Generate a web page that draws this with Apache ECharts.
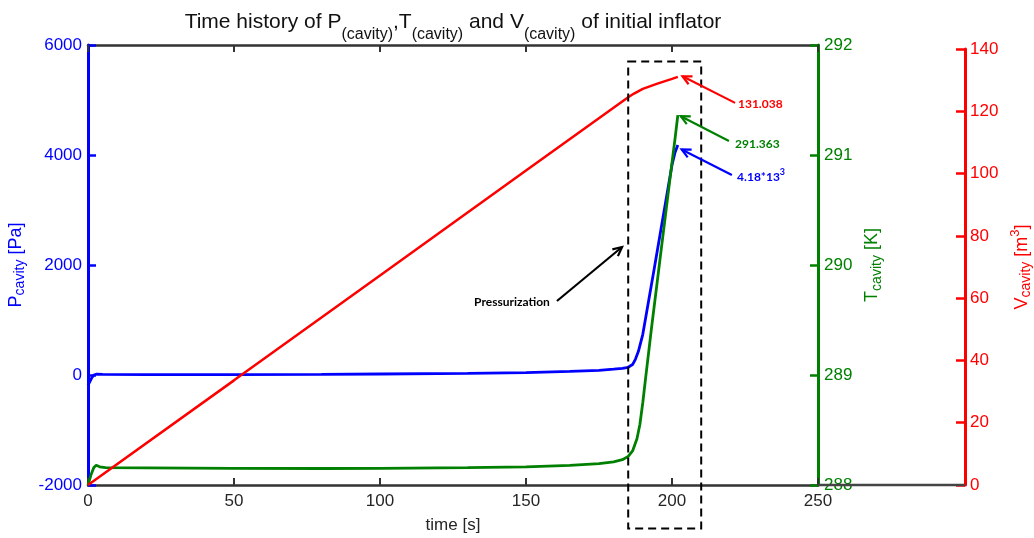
<!DOCTYPE html>
<html>
<head>
<meta charset="utf-8">
<title>Time history of initial inflator</title>
<script src="https://cdn.jsdelivr.net/npm/echarts@6/dist/echarts.min.js"></script>
<style>
  html, body { margin: 0; padding: 0; background: #ffffff; }
  #chart { width: 1034px; height: 538px; }
</style>
</head>
<body>
<div id="chart"></div>
<script>
// ---- data -------------------------------------------------------------
// cavity pressure [Pa] over time [s]
const pTime  = [0, 0.6, 1.2, 2, 3, 5, 20, 50, 80, 100, 130, 150, 165, 175, 180, 183, 185, 186.5, 187.5, 188.5, 190, 192, 194, 196, 198, 200, 201, 202];
const pValue = [-190, -160, -60, 0, 15, 10, 6, 8, 12, 18, 30, 45, 65, 85, 105, 120, 140, 190, 290, 430, 740, 1350, 1960, 2580, 3200, 3820, 4040, 4180];

// cavity temperature [K] over time [s]
const tTime  = [0, 1, 2, 2.8, 4, 6, 20, 50, 80, 100, 130, 150, 165, 175, 180, 183, 185, 186.5, 188, 189, 190, 191, 193, 195, 197, 199, 201, 202];
const tValue = [288.0, 288.09, 288.16, 288.18, 288.165, 288.158, 288.156, 288.152, 288.15, 288.152, 288.158, 288.165, 288.178, 288.195, 288.21, 288.23, 288.26, 288.31, 288.42, 288.55, 288.75, 288.98, 289.43, 289.86, 290.29, 290.72, 291.14, 291.363];

// cavity volume [m^3] over time [s]
const vTime  = [0, 50, 100, 150, 185, 187, 190, 195, 200, 202];
const vValue = [0, 33.6, 67.3, 101.0, 124.5, 125.7, 127.2, 128.9, 130.4, 131.038];

// axis ranges [min, max, step]
const timeRange = [0, 250, 50];
const pRange = [-2000, 6000, 2000];
const tRange = [288, 292, 1];
const vRange = [0, 140, 20];

// peak values called out on the chart
const pPeak = [202, 4180];
const tPeak = [202, 291.363];
const vPeak = [202, 131.038];

// pressurization window [t0, t1, P top, P bottom]
const pressWindow = [185, 210, 5700, -2790];

// ---- helpers ------------------------------------------------------------
const zip = (xs, ys) => xs.map((x, i) => [x, ys[i]]);

const COL_P = '#0000ff';
const COL_T = '#008000';
const COL_V = '#ff0000';
const COL_AX = '#333333';
const FONT = '"Liberation Sans", Arial, Helvetica, sans-serif';
const NOTE_FONT = 'Lato, "Open Sans", sans-serif';

const chart = echarts.init(document.getElementById('chart'), null, { renderer: 'canvas' });

const plain = (v) => String(v);

function yAxisBase(range, color) {
  return {
    type: 'value',
    min: range[0], max: range[1], interval: range[2],
    axisLine: { show: true, onZero: false, lineStyle: { color: color, width: 3 } },
    axisTick: { show: true, inside: true, length: 8, lineStyle: { color: color, width: 2.5 } },
    axisLabel: { color: color, fontSize: 17, fontFamily: FONT, margin: 6, formatter: plain },
    splitLine: { show: false },
    nameLocation: 'middle'
  };
}

const option = {
  animation: false,
  backgroundColor: '#ffffff',
  textStyle: { fontFamily: FONT },
  grid: [
    { left: 88, right: 216, top: 45, bottom: 53, containLabel: false, outerBoundsMode: 'none' },
    { left: 88, right: 216, top: 49, bottom: 53, containLabel: false, outerBoundsMode: 'none' }
  ],
  xAxis: [
    {
      gridIndex: 0, type: 'value', position: 'bottom',
      min: timeRange[0], max: timeRange[1], interval: timeRange[2],
      axisLine: { show: true, onZero: false, lineStyle: { color: COL_AX, width: 2.5 } },
      axisTick: { show: true, inside: true, length: 7, lineStyle: { color: COL_AX, width: 2 } },
      axisLabel: { color: '#262626', fontSize: 17, margin: 8, formatter: plain },
      splitLine: { show: false },
      name: 'time [s]', nameLocation: 'middle', nameGap: 32,
      nameTextStyle: { color: '#262626', fontSize: 17 }
    },
    {
      gridIndex: 0, type: 'value', position: 'top',
      min: timeRange[0], max: timeRange[1], interval: timeRange[2],
      axisLine: { show: true, onZero: false, lineStyle: { color: COL_AX, width: 2.5 } },
      axisTick: { show: true, inside: true, length: 7, lineStyle: { color: COL_AX, width: 2 } },
      axisLabel: { show: false },
      splitLine: { show: false }
    },
    {
      gridIndex: 1, type: 'value', show: false,
      min: timeRange[0], max: timeRange[1]
    }
  ],
  yAxis: [
    Object.assign(yAxisBase(pRange, COL_P), {
      gridIndex: 0, position: 'left',
      name: '{m|P}{s|cavity}{m| [Pa]}', nameGap: 58,
      nameTextStyle: {
        color: COL_P,
        rich: {
          m: { fontSize: 18, color: COL_P, fontFamily: FONT },
          s: { fontSize: 14, color: COL_P, fontFamily: FONT, padding: [9, 0, 0, 0] }
        }
      }
    }),
    Object.assign(yAxisBase(tRange, COL_T), {
      gridIndex: 0, position: 'right',
      name: '{m|T}{s|cavity}{m| [K]}', nameGap: 41,
      nameTextStyle: {
        color: COL_T,
        rich: {
          m: { fontSize: 18, color: COL_T, fontFamily: FONT },
          s: { fontSize: 14, color: COL_T, fontFamily: FONT, padding: [9, 0, 0, 0] }
        }
      }
    }),
    Object.assign(yAxisBase(vRange, COL_V), {
      gridIndex: 1, position: 'right', offset: 147,
      axisTick: { show: true, inside: true, length: 9, lineStyle: { color: COL_V, width: 2.5 } },
      axisLabel: { color: COL_V, fontSize: 17, fontFamily: FONT, margin: 5, formatter: plain },
      name: '{m|V}{s|cavity}{m| [m}{p|3}{m|]}', nameGap: 44,
      nameTextStyle: {
        color: COL_V,
        rich: {
          m: { fontSize: 18, color: COL_V, fontFamily: FONT },
          s: { fontSize: 14, color: COL_V, fontFamily: FONT, padding: [9, 0, 0, 0] },
          p: { fontSize: 13, color: COL_V, fontFamily: FONT, padding: [0, 0, 12, 0] }
        }
      }
    })
  ],
  series: [
    {
      name: 'P', type: 'line', xAxisIndex: 0, yAxisIndex: 0,
      data: zip(pTime, pValue), showSymbol: false, symbol: 'none',
      lineStyle: { color: COL_P, width: 2.8 }, z: 3
    },
    {
      name: 'T', type: 'line', xAxisIndex: 0, yAxisIndex: 1,
      data: zip(tTime, tValue), showSymbol: false, symbol: 'none',
      lineStyle: { color: COL_T, width: 2.8 }, z: 4
    },
    {
      name: 'V', type: 'line', xAxisIndex: 2, yAxisIndex: 2,
      data: zip(vTime, vValue), showSymbol: false, symbol: 'none',
      lineStyle: { color: COL_V, width: 2.5 }, z: 5
    }
  ]
};

chart.setOption(option);

// ---- annotations (title, pressurization window, value call-outs) --------
const finders = {
  P: { xAxisIndex: 0, yAxisIndex: 0 },
  T: { xAxisIndex: 0, yAxisIndex: 1 },
  V: { xAxisIndex: 2, yAxisIndex: 2 }
};
const toPx = (axis, pt) => chart.convertToPixel(finders[axis], pt);

function arrow(axis, from, to, color) {
  const a = toPx(axis, from);
  const b = toPx(axis, to);
  const dx = b[0] - a[0], dy = b[1] - a[1];
  const len = Math.hypot(dx, dy);
  const ux = dx / len, uy = dy / len;
  const head = 10, ang = 0.45;
  const rot = (t) => [
    b[0] - head * (ux * Math.cos(t) - uy * Math.sin(t)),
    b[1] - head * (ux * Math.sin(t) + uy * Math.cos(t))
  ];
  return [
    { type: 'polyline', z: 10, shape: { points: [a, b] },
      style: { stroke: color, lineWidth: 2.2, fill: null } },
    { type: 'polyline', z: 10, shape: { points: [rot(ang), b, rot(-ang)] },
      style: { stroke: color, lineWidth: 2.2, fill: null } }
  ];
}

function note(axis, at, text, color, align, rich) {
  const p = toPx(axis, at);
  return {
    type: 'text', z: 10, x: p[0], y: p[1],
    style: {
      text: text, fill: color,
      font: 'bold 12px ' + NOTE_FONT,
      align: align || 'left', verticalAlign: 'middle',
      rich: rich
    }
  };
}

const topLeft = toPx('P', [pressWindow[0], pressWindow[2]]);
const botRight = toPx('P', [pressWindow[1], pressWindow[3]]);
const centerX = chart.convertToPixel({ xAxisIndex: 0 }, (timeRange[0] + timeRange[1]) / 2);
const rightGreen = chart.convertToPixel({ xAxisIndex: 0 }, timeRange[1]);
const baseY = toPx('P', [0, pRange[0]])[1];

const graphics = [
  // title with subscripts
  {
    type: 'text', z: 10, x: centerX, y: 22,
    style: {
      text: '{n|Time history of P}{s|(cavity)}{n|,T}{s|(cavity)}{n| and V}{s|(cavity)}{n| of initial inflator}',
      align: 'center', verticalAlign: 'middle',
      rich: {
        n: { fontSize: 21, fill: '#111111', fontFamily: FONT },
        s: { fontSize: 16, fill: '#111111', fontFamily: FONT, padding: [26, 0, 0, 0] }
      }
    }
  },
  // bottom frame line continuing to the volume axis
  {
    type: 'line', z: 1,
    shape: { x1: rightGreen, y1: baseY, x2: rightGreen + 147, y2: baseY },
    style: { stroke: '#444444', lineWidth: 2.5 }
  },
  // pressurization window
  {
    type: 'rect', z: 9,
    shape: { x: topLeft[0], y: topLeft[1], width: botRight[0] - topLeft[0], height: botRight[1] - topLeft[1] },
    style: { stroke: '#000000', lineWidth: 2, lineDash: [8, 5], fill: null }
  },
  ...arrow('V', [221.6, 122.7], [vPeak[0] + 1.6, vPeak[1] + 0.2], COL_V),
  ...arrow('T', [219.5, 291.127], [tPeak[0] + 1.0, tPeak[1] - 0.01], COL_T),
  ...arrow('P', [220.5, 3636], [pPeak[0] + 1.3, pPeak[1] - 80], COL_P),
  ...arrow('P', [160.6, 1345], [182.9, 2327], '#000000'),
  note('V', [222.6, 122.35], vPeak[1].toFixed(3), COL_V),
  note('T', [221.6, 291.1], tPeak[1].toFixed(3), COL_T),
  note('P', [222.3, 3600], '{b|' + (pPeak[1] / 1000).toFixed(2) + '*13}{u|3}', COL_P, 'left', {
    b: { fontSize: 12, fontWeight: 'bold', fill: COL_P, fontFamily: NOTE_FONT },
    u: { fontSize: 9, fontWeight: 'bold', fill: COL_P, fontFamily: NOTE_FONT, padding: [0, 0, 9, 0] }
  }),
  note('P', [145.2, 1327], 'Pressurization', '#000000', 'center')
];

chart.setOption({ graphic: graphics });
</script>
</body>
</html>
